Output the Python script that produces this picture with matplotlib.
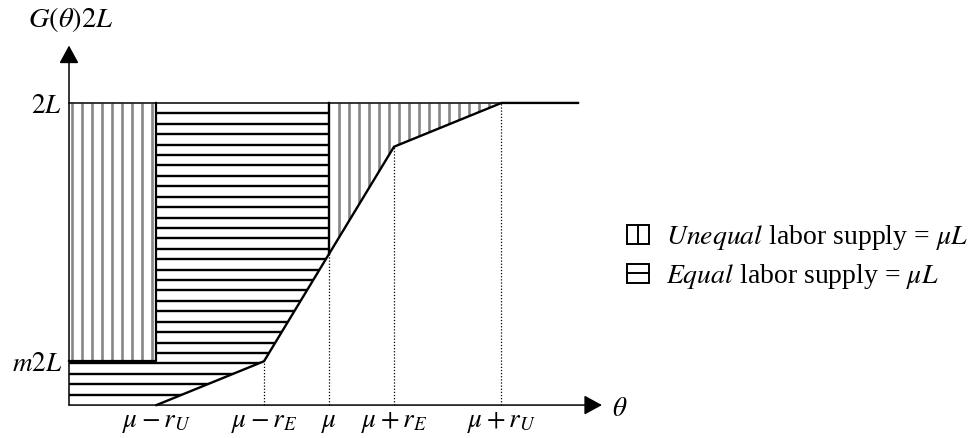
import numpy as np
import matplotlib.pyplot as plt
from matplotlib.patches import Polygon, Rectangle
from matplotlib.collections import LineCollection

plt.rcParams['font.family'] = ['Liberation Serif', 'DejaVu Sans']
plt.rcParams['mathtext.fontset'] = 'stix'

# skill distribution: piecewise linear CDF G(theta), scaled by 2L
mu = 5.2
r_E = 1.3
r_U = 3.45
m = 0.145

theta_knots = [mu - r_U, mu - r_E, mu + r_E, mu + r_U]
G_knots = [0.0, m, 1 - m, 1.0]

tick_pos = [mu - r_U, mu - r_E, mu, mu + r_E, mu + r_U]
tick_labels = [r'$\mu - r_U$', r'$\mu - r_E$', r'$\mu$', r'$\mu + r_E$', r'$\mu + r_U$']

legend_labels = [r'$\mathit{Unequal}$ labor supply = $\mu L$',
                 r'$\mathit{Equal}$ labor supply = $\mu L$']

theta_end = 10.18   # where the 2L line stops
x_arrow = 10.66
y_arrow = 1.19

FS = 19.5
LW = 1.1

fig = plt.figure(figsize=(9.79, 4.39), dpi=100)
ax = fig.add_axes([0, 0, 1, 1])
ax.set_xlim(-1.38, 18.2)
ax.set_ylim(-0.109, 1.344)
ax.axis('off')


def hatch(poly, vertical, step, offset, color, lw):
    patch = Polygon(poly, closed=True, fill=False, edgecolor='none')
    ax.add_patch(patch)
    xs = [p[0] for p in poly]
    ys = [p[1] for p in poly]
    if vertical:
        segs = [[(x, min(ys)), (x, max(ys))]
                for x in np.arange(min(xs) + offset, max(xs), step)]
    else:
        segs = [[(min(xs), y), (max(xs), y)]
                for y in np.arange(max(ys) - offset, min(ys), -step)]
    lc = LineCollection(segs, colors=color, linewidths=lw)
    lc.set_clip_path(patch)
    ax.add_collection(lc)


# unequal: left block and the wedge above G right of mu
unequal_left = [(0, m), (mu - r_U, m), (mu - r_U, 1), (0, 1)]
unequal_right = [(mu, 0.5), (theta_knots[2], G_knots[2]),
                 (theta_knots[3], G_knots[3]), (mu, 1)]
# equal: area above G left of mu, minus the unequal block
equal_area = [(0, 0), (theta_knots[0], G_knots[0]), (theta_knots[1], G_knots[1]),
              (mu, 0.5), (mu, 1), (mu - r_U, 1), (mu - r_U, m), (0, m)]

hatch(unequal_left, True, 0.2, 0.06, '#878787', 1.9)
hatch(unequal_right, True, 0.2, 0.2, '#878787', 1.9)
hatch(equal_area, False, 1 / 29, 1 / 29, 'black', 1.7)

# block outline and the split at mu
ax.plot([mu - r_U, mu - r_U, 0], [1, m, m], color='black', lw=1.6)
ax.plot([mu, mu], [0.5, 1], color='black', lw=1.7)

# 2L ceiling and the CDF
ax.plot([0, theta_end], [1, 1], color='black', lw=LW)
ax.plot(theta_knots + [theta_end], G_knots + [1.0], color='black', lw=1.7,
        solid_joinstyle='miter')

# dotted guides down to the axis
guide_x = [mu - r_E, mu, mu + r_E, mu + r_U]
guide_top = [m, 0.5, 1 - m, 1.0]
for gx, gt in zip(guide_x, guide_top):
    ax.plot([gx, gx], [0, gt], color='black', lw=0.9, ls=(0, (1, 1.5)))

# axes with arrow heads
arrow = dict(arrowstyle='-|>,head_length=0.55,head_width=0.3', color='black',
             lw=LW, mutation_scale=20, shrinkA=0, shrinkB=0)
ax.annotate('', xy=(x_arrow, 0), xytext=(0, 0), arrowprops=arrow)
ax.annotate('', xy=(0, y_arrow), xytext=(0, 0), arrowprops=arrow)

ax.text(0.04, 1.255, r'$G(\theta)2L$', ha='center', va='baseline', fontsize=FS + 1)
ax.text(x_arrow + 0.2, -0.033, r'$\theta$', ha='left', va='baseline', fontsize=FS)
ax.text(-0.14, 1 - 0.03, r'$2L$', ha='right', va='baseline', fontsize=FS)
ax.text(-0.14, m - 0.03, r'$m2L$', ha='right', va='baseline', fontsize=FS)

for tx, tl in zip(tick_pos, tick_labels):
    ax.text(tx, -0.0695, tl, ha='center', va='baseline', fontsize=FS)

# legend: boxed keys split vertically (unequal) and horizontally (equal)
leg_x = 11.16
box_w, box_h = 0.44, 0.063
row_mid = [0.566, 0.437]
for i, (ym, lab) in enumerate(zip(row_mid, legend_labels)):
    ax.add_patch(Rectangle((leg_x, ym - box_h / 2), box_w, box_h,
                           fill=False, edgecolor='black', lw=1.4))
    if i == 0:
        ax.plot([leg_x + box_w / 2] * 2, [ym - box_h / 2, ym + box_h / 2],
                color='black', lw=1.4)
    else:
        ax.plot([leg_x, leg_x + box_w], [ym, ym], color='black', lw=1.4)
    ax.text(leg_x + 0.78, ym - 0.03, lab, ha='left', va='baseline', fontsize=FS + 0.5)

fig.savefig('out.png', dpi=100, facecolor='white')
